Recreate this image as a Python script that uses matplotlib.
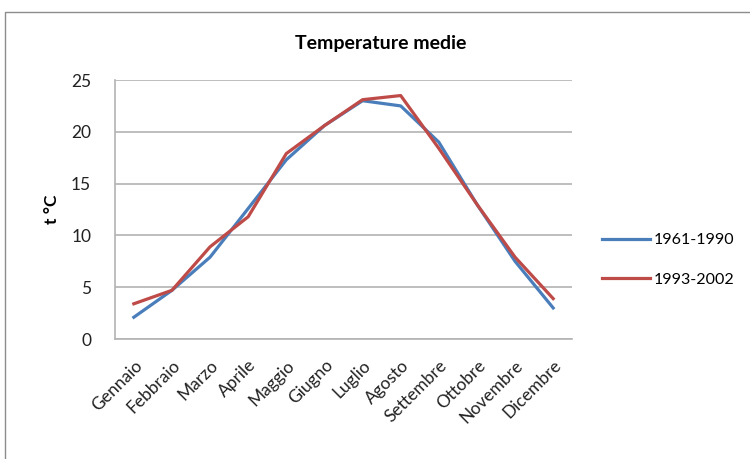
import matplotlib.pyplot as plt
from matplotlib.patches import Rectangle

mesi = ["Gennaio", "Febbraio", "Marzo", "Aprile", "Maggio", "Giugno",
        "Luglio", "Agosto", "Settembre", "Ottobre", "Novembre", "Dicembre"]
t_1961_1990 = [2.1, 4.7, 7.9, 12.6, 17.3, 20.6, 23.0, 22.5, 19.0, 13.0, 7.5, 3.0]
t_1993_2002 = [3.4, 4.7, 8.9, 11.8, 17.9, 20.6, 23.1, 23.5, 18.4, 13.0, 7.9, 3.9]

plt.rcParams['font.family'] = ['Lato', 'DejaVu Sans']

fig = plt.figure(figsize=(7.5, 4.59), dpi=100)
ax = fig.add_axes([0.153, 0.2614, 0.61, 0.5643])

# cornice del grafico
fig.patches.append(Rectangle((0.007, -0.05), 1.1, 1.024, transform=fig.transFigure,
                             fill=False, edgecolor="#8c8c8c", linewidth=1))

x = range(len(mesi))
ax.plot(x, t_1961_1990, color="#4a7ebb", linewidth=2.3, label="1961-1990")
ax.plot(x, t_1993_2002, color="#be4b48", linewidth=2.3, label="1993-2002")

ax.set_xlim(-0.5, len(mesi) - 0.5)
ax.set_ylim(0, 25)
ax.set_yticks(range(0, 26, 5))
ax.set_xticks(list(x))
ax.set_xticklabels(mesi, rotation=45, ha="right", rotation_mode="anchor",
                   fontsize=12.5, color="#222222")
ax.tick_params(axis="y", labelsize=12.5, length=0, pad=17, labelcolor="#222222")
ax.tick_params(axis="x", length=0, pad=13)

ax.yaxis.grid(True, color="#b3b3b3", linewidth=1.2)
ax.set_axisbelow(True)
for s in ["top", "right"]:
    ax.spines[s].set_visible(False)
ax.spines["left"].set_color("#b3b3b3")
ax.spines["bottom"].set_color("#b3b3b3")
ax.spines["left"].set_linewidth(1.2)
ax.spines["bottom"].set_linewidth(1.2)

ax.set_ylabel("t °C", fontweight="bold", fontsize=12.5, labelpad=8)
fig.text(0.507, 0.906, "Temperature medie", ha="center", va="center",
         fontweight="bold", fontsize=14)

ax.legend(loc="center left", bbox_to_anchor=(1.045, 0.305), frameon=False,
          fontsize=11.5, handlelength=3.0, handletextpad=0.2, labelspacing=1.6,
          borderaxespad=0.2)

fig.savefig("out.png", dpi=100)
